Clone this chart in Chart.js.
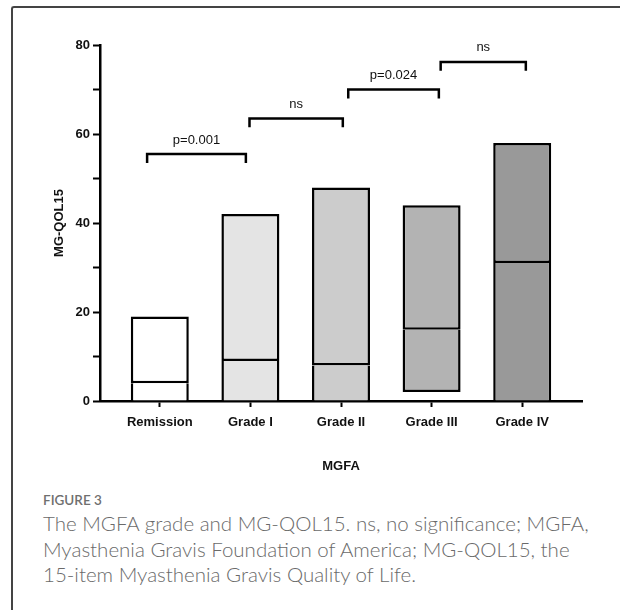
<!DOCTYPE html>
<html>
<head>
<meta charset="utf-8">
<script src="https://cdn.jsdelivr.net/npm/chart.js@4/dist/chart.umd.min.js"></script>
<style>
  html, body { margin: 0; padding: 0; background: #fff; }
  body { width: 620px; height: 610px; position: relative; overflow: hidden; }
  #frame { position: absolute; left: 11px; top: 6px; width: 700px; height: 700px;
           border-left: 2px solid #444; border-top: 2px solid #444; border-top-left-radius: 3px; }
  #wrap { position: absolute; left: 0; top: 0; width: 620px; height: 480px; }
  #cap { position: absolute; left: 43px; top: 490px; width: 575px; font-family: Lato, "Open Sans", sans-serif; color: #6a6a6a; }
  #cap .fig { font-size: 13.5px; font-weight: 600; color: #6f6f6f; line-height: 20px; }
  #cap .txt { font-size: 20.5px; font-weight: 300; line-height: 25.5px; margin-top: 1px; white-space: nowrap; }
</style>
</head>
<body>
<div id="frame"></div>
<div id="wrap"><canvas id="c" width="620" height="480"></canvas></div>
<div id="cap">
  <div class="fig">FIGURE 3</div>
  <div class="txt">The MGFA grade and MG-QOL15. ns, no significance; MGFA,<br>Myasthenia Gravis Foundation of America; MG-QOL15, the<br>15-item Myasthenia Gravis Quality of Life.</div>
</div>
<script>
// ---- data ----
const categories = ['Remission', 'Grade I', 'Grade II', 'Grade III', 'Grade IV'];
const minValues = [0, 0, 0, 2, 0];
const medianValues = [4, 9, 8, 16, 31];
const maxValues = [19, 42, 48, 44, 58];
const barColors = ['#ffffff', '#e4e4e4', '#cccccc', '#b3b3b3', '#999999'];
const yTickValues = [0, 20, 40, 60, 80];
const bracketStarts = [-0.14, 0.99, 2.08, 3.1];
const bracketEnds = [0.95, 2.02, 3.08, 4.04];
const bracketLevels = [55.5, 63.5, 70, 76.2];
const bracketLabels = ['p=0.001', 'ns', 'p=0.024', 'ns'];

const lowerData = categories.map((c, i) => ({ x: i, y: [minValues[i], medianValues[i]] }));
const upperData = categories.map((c, i) => ({ x: i, y: [medianValues[i], maxValues[i]] }));

const bracketPlugin = {
  id: 'brackets',
  afterDatasetsDraw(chart) {
    const { ctx, scales: { x, y } } = chart;
    ctx.save();
    ctx.strokeStyle = '#000';
    ctx.lineWidth = 2.5;
    ctx.lineJoin = 'miter';
    ctx.fillStyle = '#111';
    ctx.font = '13px "Liberation Sans", Arial, sans-serif';
    ctx.textAlign = 'center';
    ctx.textBaseline = 'middle';
    for (let i = 0; i < bracketLabels.length; i++) {
      const x0 = x.getPixelForValue(bracketStarts[i]);
      const x1 = x.getPixelForValue(bracketEnds[i]);
      const yl = y.getPixelForValue(bracketLevels[i]);
      const yd = y.getPixelForValue(bracketLevels[i] - 2);
      ctx.beginPath();
      ctx.moveTo(x0, yd);
      ctx.lineTo(x0, yl);
      ctx.lineTo(x1, yl);
      ctx.lineTo(x1, yd);
      ctx.stroke();
      ctx.fillText(bracketLabels[i], (x0 + x1) / 2, yl - 14);
    }
    ctx.restore();
  }
};

const common = {
  grouped: false,
  borderColor: '#000',
  borderSkipped: false,
  backgroundColor: barColors,
  barPercentage: 0.8,
  categoryPercentage: 0.8
};

new Chart(document.getElementById('c'), {
  type: 'bar',
  data: {
    datasets: [
      Object.assign({ label: 'min-median', data: lowerData,
        borderWidth: (ctx) => ({ top: 0, left: 2.5, right: 2.5,
                                 bottom: minValues[ctx.dataIndex] > 0 ? 2.5 : 0 }) }, common),
      Object.assign({ label: 'median-max', data: upperData,
        borderWidth: { top: 2.5, left: 2.5, right: 2.5, bottom: 2.5 } }, common)
    ]
  },
  options: {
    responsive: false,
    animation: false,
    layout: { padding: { top: 45, right: 38, left: 0, bottom: 0 } },
    plugins: { legend: { display: false }, tooltip: { enabled: false } },
    scales: {
      x: {
        type: 'linear',
        min: -0.66,
        max: 4.66,
        offset: false,
        afterBuildTicks(scale) { scale.ticks = categories.map((c, i) => ({ value: i })); },
        afterFit(scale) { scale.height = 79; },
        ticks: {
          callback: (v) => categories[v] !== undefined ? categories[v] : '',
          font: { family: '"Liberation Sans", Arial, sans-serif', size: 13, weight: 'bold' },
          color: '#111',
          padding: 8,
          maxRotation: 0,
          autoSkip: false
        },
        grid: { display: true, drawOnChartArea: false, drawTicks: true, tickLength: 6,
                tickWidth: 2, tickColor: '#000', offset: false, color: '#000' },
        border: { display: true, color: '#000', width: 2.5 },
        title: { display: true, text: 'MGFA', color: '#111',
                 font: { family: '"Liberation Sans", Arial, sans-serif', size: 13, weight: 'bold' },
                 padding: { top: 0, bottom: 6 } }
      },
      y: {
        min: 0,
        max: 80,
        afterFit(scale) { scale.width = 100; },
        ticks: {
          stepSize: 10,
          callback: (v) => yTickValues.includes(v) ? String(v) : '',
          font: { family: '"Liberation Sans", Arial, sans-serif', size: 13, weight: 'bold' },
          color: '#111',
          padding: 3
        },
        grid: { display: true, drawOnChartArea: false, drawTicks: true, tickLength: 7,
                tickWidth: 2, tickColor: '#000', color: '#000' },
        border: { display: true, color: '#000', width: 2.5 },
        title: { display: true, text: 'MG-QOL15', color: '#111',
                 font: { family: '"Liberation Sans", Arial, sans-serif', size: 13, weight: 'bold' },
                 padding: { top: 52, bottom: 0 } }
      }
    }
  },
  plugins: [bracketPlugin]
});
</script>
</body>
</html>
